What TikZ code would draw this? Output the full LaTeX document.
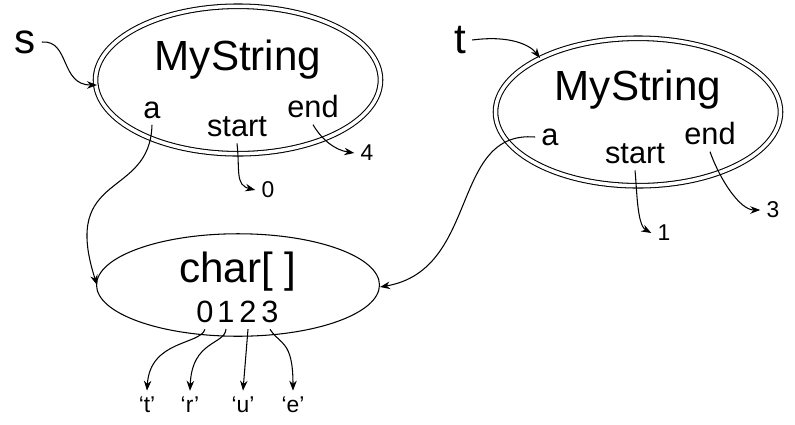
\documentclass[tikz,border=0pt]{standalone}
\usepackage{fontspec}
\setmainfont{Liberation Sans}
\usetikzlibrary{shapes.geometric,arrows.meta}

\begin{document}
\begin{tikzpicture}[x=0.02cm,y=-0.02cm,line width=0.6pt,
        big/.style={font=\fontsize{24}{28}\selectfont},
        mid/.style={font=\fontsize{17.5}{20}\selectfont},
        small/.style={font=\fontsize{13}{15}\selectfont},
        obj/.style={ellipse,draw,double,double distance=2pt,minimum width=5.7cm,minimum height=2.95cm},
        arr/.style={-Stealth}]
                \useasboundingbox (0,0) rectangle (795,424);
                % first string
                \node[obj] (s1) at (238,80) {};
                \node[big] (s1name) at (238,60) {MyString};
                \node[mid] (s1a) at (152,110) {a};
                \node[mid] (s1start) at (237,127) {start};
                \node[mid] (s1end) at (313,107) {end};
                \node[big] (s) at (25,42) {s};
                \node[small] (s1zero) at (268,190) {0};
                \node[small] (s1four) at (367,153) {4};

                % second string
                \node[obj] (s2) at (638,112) {};
                \node[big] (s2name) at (638,90) {MyString};
                \node[mid] (s2a) at (550,137) {a};
                \node[mid] (s2start) at (635,154) {start};
                \node[mid] (s2end) at (710,134) {end};
                \node[big] (t) at (460,40) {t};
                \node[small] (s2one) at (664,233) {1};
                \node[small] (s2three) at (773,210) {3};

                % char array
                \node[ellipse,draw,minimum width=5.66cm,minimum height=2.05cm] (arr) at (238,285) {};
                \node[big] (arrname) at (238,272) {char[ ]};
                \node[mid] (i0) at (205,312) {0};
                \node[mid] (i1) at (226,312) {1};
                \node[mid] (i2) at (248,312) {2};
                \node[mid] (i3) at (270,312) {3};
                \node[small] (ct) at (147,405) {`t'};
                \node[small] (cr) at (190,405) {`r'};
                \node[small] (cu) at (243,405) {`u'};
                \node[small] (ce) at (293,405) {`e'};

                \draw[arr] (s.east) .. controls (70,40) and (60,85) .. (97,85);
                \draw[arr] (t.east) .. controls (510,35) and (530,45) .. (540,58);
                \draw[arr] (s1a.south) .. controls (150,200) and (60,170) .. (97,285);
                \draw[arr] (s2a.west) .. controls (450,130) and (480,270) .. (380,287);
                \draw[arr] (s1start.south) .. controls (240,170) and (235,185) .. (s1zero.west);
                \draw[arr] (s1end.south) .. controls (322,140) and (335,150) .. (s1four.west);
                \draw[arr] (s2start.south) .. controls (637,190) and (637,225) .. (s2one.west);
                \draw[arr] (s2end.south) .. controls (720,180) and (740,210) .. (s2three.west);
                \draw[arr] (i0.south) .. controls (200,345) and (150,340) .. (ct.north);
                \draw[arr] (i1.south) .. controls (225,345) and (192,340) .. (cr.north);
                \draw[arr] (i2.south) -- (cu.north);
                \draw[arr] (i3.south) .. controls (280,345) and (293,340) .. (ce.north);
\end{tikzpicture}
\end{document}
